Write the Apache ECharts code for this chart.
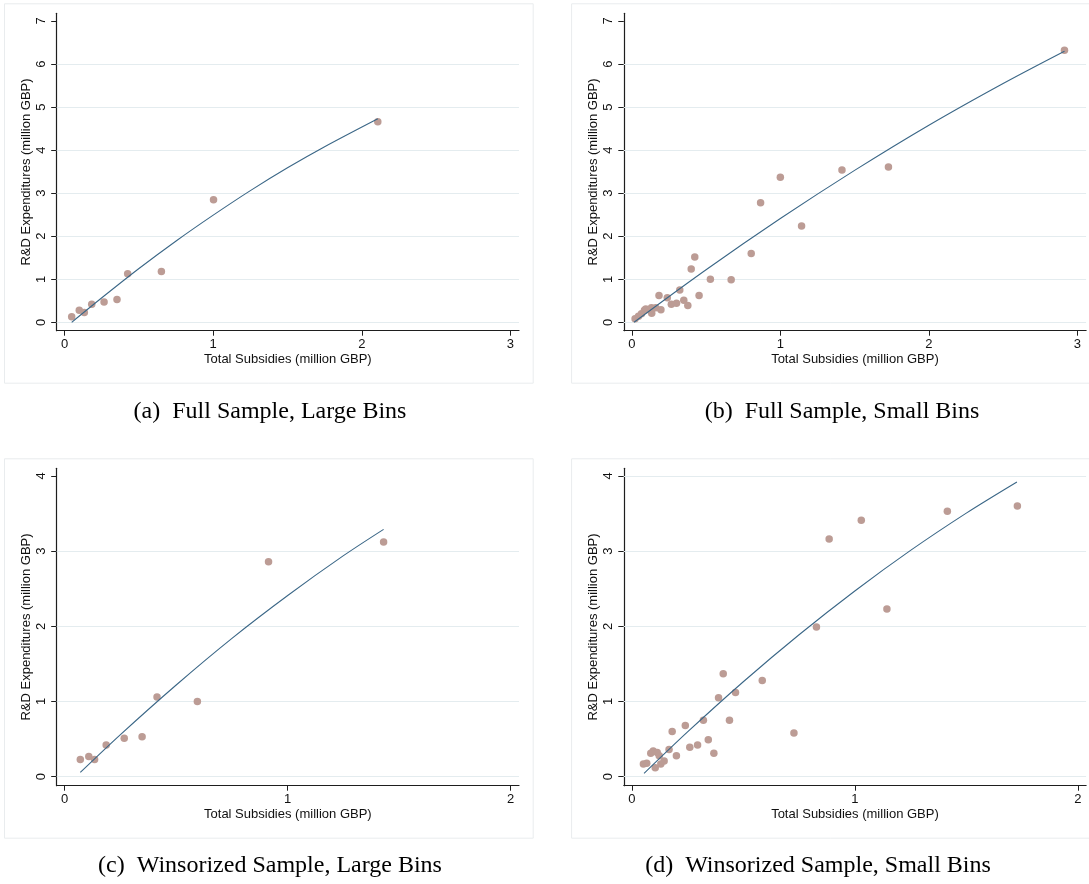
<!DOCTYPE html>
<html><head><meta charset="utf-8">
<script src="https://cdn.jsdelivr.net/npm/echarts@6/dist/echarts.min.js"></script>
<style>html,body{margin:0;padding:0;background:#fff}#c{width:1089px;height:884px}</style>
</head><body><div id="c"></div><script>
// ---------- text ----------
const xTitle = 'Total Subsidies (million GBP)';
const yTitle = 'R&D Expenditures (million GBP)';
const captions = [
  '(a)\u2002Full Sample, Large Bins',
  '(b)\u2002Full Sample, Small Bins',
  '(c)\u2002Winsorized Sample, Large Bins',
  '(d)\u2002Winsorized Sample, Small Bins'
];

// ---------- tick labels / gridlines ----------
const xTicksFull = [0, 1, 2, 3];
const yTicksFull = [0, 1, 2, 3, 4, 5, 6, 7];
const yGridFull = [0, 1, 2, 3, 4, 5, 6];
const xTicksWins = [0, 1, 2];
const yTicksWins = [0, 1, 2, 3, 4];
const yGridC = [0, 1, 2, 3];
const yGridD = [0, 1, 2, 3, 4];

// ---------- (a) Full Sample, Large Bins ----------
const aX = [0.047, 0.098, 0.132, 0.182, 0.265, 0.352, 0.424, 0.651, 1.002, 2.108];
const aY = [0.13, 0.28, 0.23, 0.42, 0.47, 0.53, 1.13, 1.18, 2.85, 4.66];
const aFitX = [0.047, 0.25, 0.5, 0.75, 1.0, 1.25, 1.5, 1.75, 2.108];
const aFitY = [0.0, 0.57, 1.25, 1.89, 2.49, 3.06, 3.59, 4.08, 4.73];

// ---------- (b) Full Sample, Small Bins ----------
const bX = [0.022, 0.045, 0.065, 0.085, 0.094, 0.118, 0.132, 0.134, 0.161, 0.183, 0.196, 0.239, 0.266, 0.301, 0.323,
            0.35, 0.377, 0.40, 0.424, 0.453, 0.529, 0.669, 0.804, 0.867, 1.0, 1.143, 1.415, 1.728, 2.913];
const bY = [0.08, 0.14, 0.20, 0.28, 0.31, 0.29, 0.34, 0.21, 0.34, 0.62, 0.29, 0.57, 0.42, 0.44, 0.75,
            0.51, 0.39, 1.24, 1.52, 0.62, 1.0, 0.99, 1.60, 2.78, 3.37, 2.24, 3.54, 3.61, 6.32];
const bFitX = [0.015, 0.5, 1.0, 1.5, 2.0, 2.5, 2.913];
const bFitY = [0.0, 1.22, 2.41, 3.53, 4.58, 5.55, 6.30];

// ---------- (c) Winsorized Sample, Large Bins ----------
const cX = [0.070, 0.108, 0.134, 0.186, 0.267, 0.347, 0.414, 0.595, 0.914, 1.43];
const cY = [0.23, 0.27, 0.23, 0.42, 0.51, 0.53, 1.06, 1.0, 2.86, 3.12];
const cFitX = [0.07, 0.25, 0.5, 0.75, 1.0, 1.25, 1.43];
const cFitY = [0.057, 0.56, 1.22, 1.84, 2.41, 2.94, 3.29];

// ---------- (d) Winsorized Sample, Small Bins ----------
const dX = [0.052, 0.067, 0.085, 0.096, 0.105, 0.114, 0.123, 0.13, 0.145, 0.167, 0.181, 0.20, 0.24, 0.26, 0.295,
            0.321, 0.343, 0.368, 0.389, 0.41, 0.438, 0.465, 0.585, 0.727, 0.828, 0.885, 1.029, 1.144, 1.415, 1.729];
const dY = [0.17, 0.18, 0.31, 0.34, 0.12, 0.32, 0.28, 0.17, 0.21, 0.36, 0.60, 0.28, 0.68, 0.39, 0.42,
            0.75, 0.49, 0.31, 1.05, 1.37, 0.75, 1.12, 1.28, 0.58, 1.99, 3.16, 3.41, 2.23, 3.53, 3.60];
const dFitX = [0.055, 0.25, 0.5, 0.75, 1.0, 1.25, 1.5, 1.727];
const dFitY = [0.044, 0.595, 1.263, 1.888, 2.47, 3.01, 3.506, 3.92];

// ---------- layout ----------
const SANS = '"Liberation Sans", Arial, Helvetica, sans-serif';
const SERIF = '"Liberation Serif", "Times New Roman", serif';
const AXIS_COLOR = '#1e1e1e';
const GRID_COLOR = '#e4ecef';
const DOT_COLOR = '#bc9c95';
const LINE_COLOR = '#3b6787';
const GW = 462.3, GH = 317.4;

const panels = [
  {left: 56.7,  top: 13.3,  xs: aX, ys: aY, fx: aFitX, fy: aFitY, xt: xTicksFull, yt: yTicksFull, yg: yGridFull,
   xr: [-0.0539, 3.0587], yr: [-0.195, 7.179]},
  {left: 623.8, top: 13.3,  xs: bX, ys: bY, fx: bFitX, fy: bFitY, xt: xTicksFull, yt: yTicksFull, yg: yGridFull,
   xr: [-0.0539, 3.0587], yr: [-0.195, 7.179]},
  {left: 56.7,  top: 468.3, xs: cX, ys: cY, fx: cFitX, fy: cFitY, xt: xTicksWins, yt: yTicksWins, yg: yGridC,
   xr: [-0.0359, 2.0372], yr: [-0.12, 4.102]},
  {left: 623.8, top: 468.3, xs: dX, ys: dY, fx: dFitX, fy: dFitY, xt: xTicksWins, yt: yTicksWins, yg: yGridD,
   xr: [-0.0359, 2.0372], yr: [-0.12, 4.102]}
];

const zip = (a, b) => a.map((v, i) => [v, b[i]]);

const grid = [], xAxis = [], yAxis = [], series = [], graphic = [];
panels.forEach((p, i) => {
  grid.push({left: p.left, top: p.top, width: GW, height: GH, containLabel: false, outerBoundsMode: 'none'});
  xAxis.push({
    type: 'value', gridIndex: i, min: p.xr[0], max: p.xr[1],
    axisLine: {show: true, onZero: false, lineStyle: {color: AXIS_COLOR, width: 1.2}},
    axisTick: {show: true, length: 5, customValues: p.xt, lineStyle: {color: AXIS_COLOR, width: 1}},
    axisLabel: {customValues: p.xt, margin: 7, fontSize: 13, color: '#111', fontFamily: SANS},
    splitLine: {show: false},
    name: xTitle, nameLocation: 'middle', nameGap: 22,
    nameTextStyle: {fontSize: 13, color: '#111', fontFamily: SANS}
  });
  yAxis.push({
    type: 'value', gridIndex: i, min: p.yr[0], max: p.yr[1],
    axisLine: {show: true, onZero: false, lineStyle: {color: AXIS_COLOR, width: 1.2}},
    axisTick: {show: true, length: 5.5, customValues: p.yt, lineStyle: {color: AXIS_COLOR, width: 1}},
    axisLabel: {customValues: p.yt, rotate: 90, margin: 9, fontSize: 13, color: '#111', fontFamily: SANS},
    splitLine: {show: false},
    name: yTitle, nameLocation: 'middle', nameGap: 24,
    nameTextStyle: {fontSize: 13, color: '#111', fontFamily: SANS}
  });
  series.push({
    type: 'scatter', xAxisIndex: i, yAxisIndex: i, data: zip(p.xs, p.ys),
    symbol: 'circle', symbolSize: 7.5, z: 3,
    itemStyle: {color: DOT_COLOR, opacity: 1},
    markLine: {
      silent: true, symbol: 'none', z: 1, animation: false,
      label: {show: false},
      lineStyle: {color: GRID_COLOR, width: 1, type: 'solid'},
      emphasis: {disabled: true},
      data: p.yg.map(v => ({yAxis: v}))
    }
  });
  series.push({
    type: 'line', xAxisIndex: i, yAxisIndex: i, data: zip(p.fx, p.fy),
    symbol: 'none', smooth: 0.3, z: 4,
    lineStyle: {color: LINE_COLOR, width: 1.1}
  });
  // faint outer frame of each Stata graph
  const fx = p.left - 52.7, fy = p.top - 10;
  graphic.push({type: 'rect', silent: true, z: -1,
    shape: {x: fx + 0.5, y: fy + 0.5, width: 528.7, height: 379.4},
    style: {fill: null, stroke: '#e9ecee', lineWidth: 1}});
});

const capCenters = [[270, 412], [842, 412], [270, 866], [818, 866]];
captions.forEach((t, i) => {
  graphic.push({type: 'text', silent: true, x: capCenters[i][0], y: capCenters[i][1],
    style: {text: t, fill: '#000', font: '24px ' + SERIF, align: 'center', verticalAlign: 'middle'}});
});

const chart = echarts.init(document.getElementById('c'), null, {renderer: 'canvas', width: 1089, height: 884});
chart.setOption({
  backgroundColor: '#ffffff',
  animation: false,
  grid, xAxis, yAxis, series, graphic
});
</script></body></html>
